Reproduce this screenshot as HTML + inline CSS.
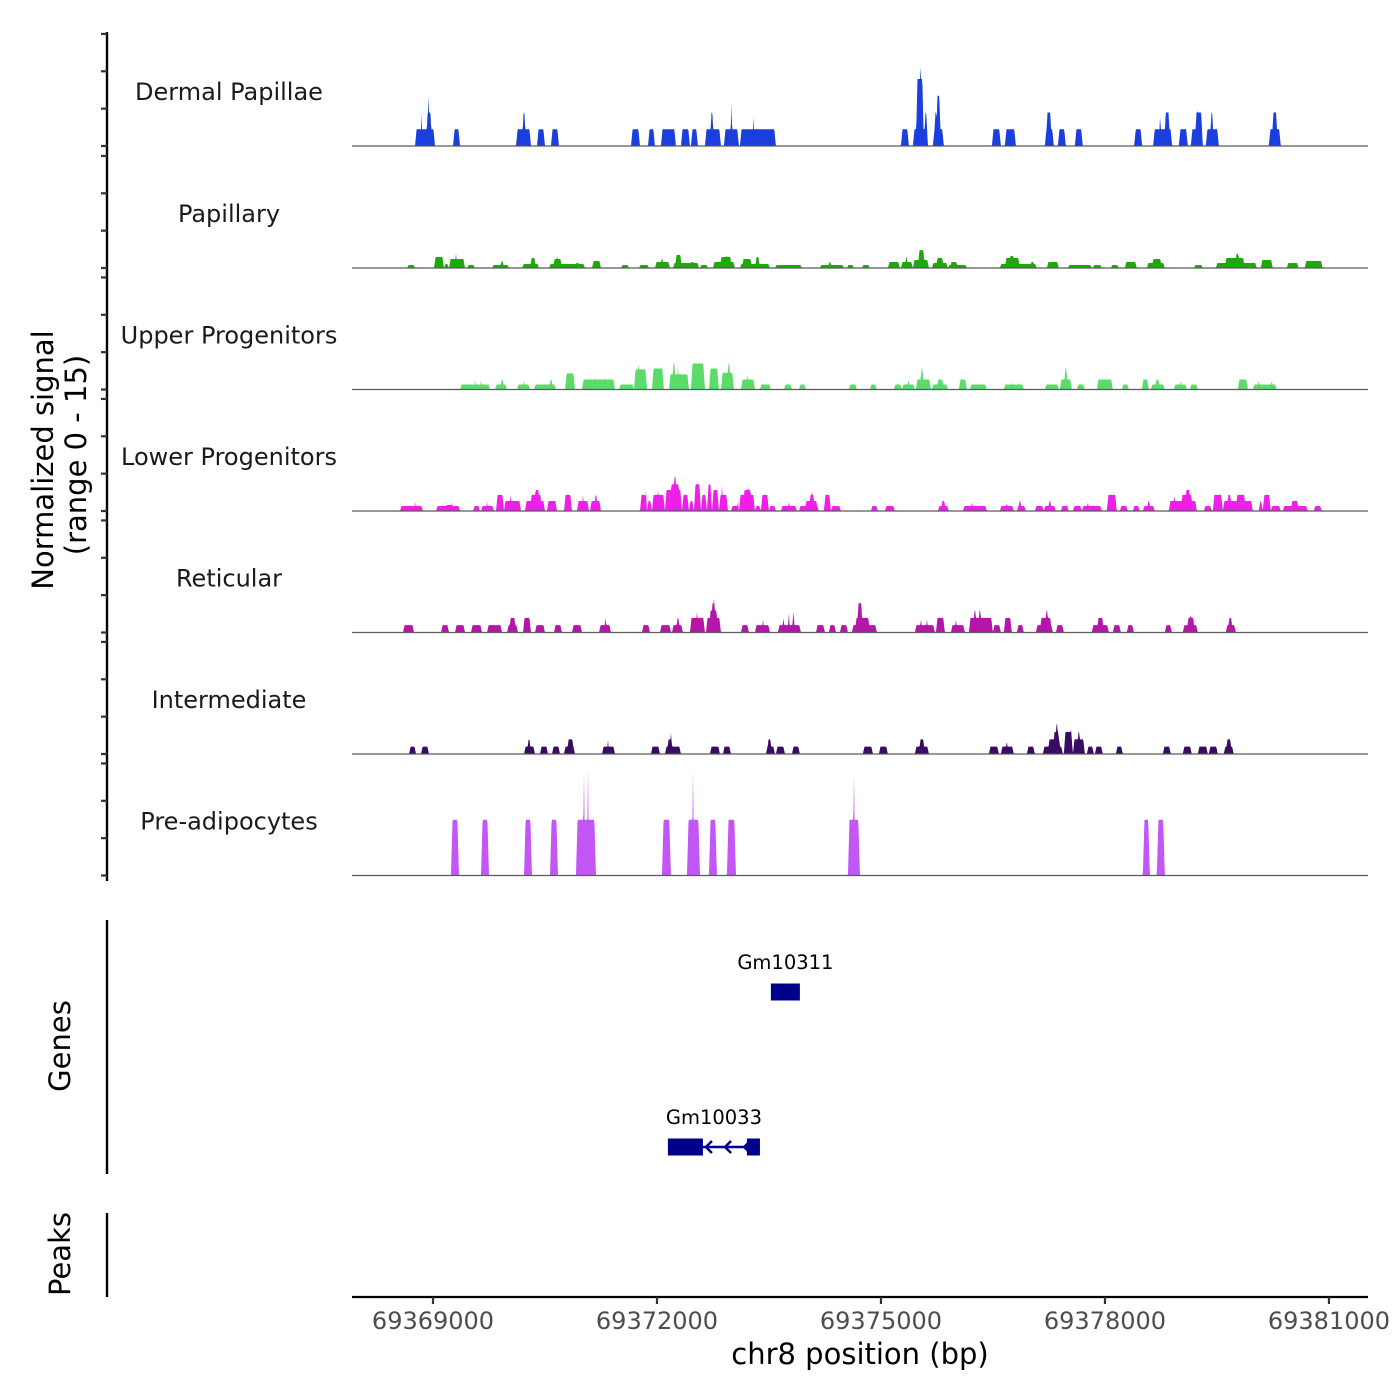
<!DOCTYPE html>
<html><head><meta charset="utf-8"><style>
body{margin:0;background:#fff}
svg{display:block;font-family:"DejaVu Sans","Liberation Sans",sans-serif}
</style></head><body>
<svg id="chart" width="1400" height="1400" viewBox="0 0 1400 1400" xmlns="http://www.w3.org/2000/svg">
<rect width="1400" height="1400" fill="#fff"/>
<g id="tracks"></g>
<g id="axes"></g>
<g id="genes"></g>
<text transform="translate(53,460) rotate(-90)" text-anchor="middle" font-size="29" fill="#000">Normalized signal</text>
<text transform="translate(86,455) rotate(-90)" text-anchor="middle" font-size="29" fill="#000">(range 0 - 15)</text>
<text transform="translate(70,1046) rotate(-90)" text-anchor="middle" font-size="29" fill="#000">Genes</text>
<text transform="translate(70,1254) rotate(-90)" text-anchor="middle" font-size="29" fill="#000">Peaks</text>
<text x="860" y="1364" text-anchor="middle" font-size="29" fill="#000">chr8 position (bp)</text>
</svg>
<script>
const BASE = 69300000;
const xDomain = [67915, 81523];
const trackNames = ["Dermal Papillae","Papillary","Upper Progenitors","Lower Progenitors","Reticular","Intermediate","Pre-adipocytes"];
const trackColors = ["#1a3fdc","#1ea80b","#5bdc6a","#ee1fe6","#b516aa","#3a0b62","#c257f6"];
const xTicks = [69369000, 69372000, 69375000, 69378000, 69381000];
const yTickValues = [0, 2.23, 4.46, 6.69];
const dermal = [[68579,68851,1],[68661,68674,2],[68729,68810,2],[68756,68769,3],[69096,69191,1],[69952,70156,1],[70033,70088,2],[70237,70346,1],[70427,70536,1],[71515,71637,1],[71746,71841,1],[71922,72126,1],[72194,72316,1],[72330,72425,1],[72520,72738,1],[72588,72643,2],[72778,72982,1],[72860,72901,2],[72874,72887,3],[72996,73485,1],[73173,73186,2],[75184,75293,1],[75347,75551,1],[75388,75497,4],[75429,75470,5],[75497,75551,2],[75619,75768,1],[75632,75687,2],[75660,75728,3],[76421,76543,1],[76597,76747,1],[77141,77263,1],[77155,77236,2],[77318,77426,1],[77549,77657,1],[78355,78464,1],[78613,78872,1],[78695,78722,2],[78763,78844,2],[78962,79084,1],[79125,79288,1],[79180,79288,2],[79207,79221,3],[79329,79506,1],[79384,79438,2],[80185,80348,1],[80226,80307,2]];
const papillary = [[68471,68580,0.18],[68837,68973,0.66],[68973,69041,0.24],[69041,69259,0.54],[69123,69150,0.9],[69286,69395,0.18],[69626,69857,0.18],[69735,69789,0.42],[70034,70265,0.24],[70142,70224,0.6],[70401,70890,0.24],[70455,70577,0.54],[70496,70523,0.72],[70754,70822,0.3],[70985,71107,0.42],[71379,71488,0.18],[71624,71760,0.18],[71841,72045,0.36],[71909,71963,0.54],[72086,72440,0.3],[72113,72208,0.78],[72316,72384,0.36],[72453,72561,0.18],[72629,72928,0.36],[72724,72887,0.66],[72792,72833,0.78],[72996,73404,0.24],[73023,73159,0.54],[73200,73268,0.66],[73472,73839,0.18],[74083,74409,0.18],[74192,74246,0.36],[74450,74545,0.18],[74654,74763,0.18],[75007,75170,0.36],[75184,75347,0.36],[75238,75279,0.78],[75347,75565,0.48],[75415,75510,1.07],[75456,75483,1.13],[75605,75823,0.3],[75660,75768,0.6],[75823,76081,0.18],[75850,75959,0.36],[76529,77032,0.24],[76597,76801,0.6],[76651,76733,0.72],[76937,77005,0.36],[77168,77331,0.36],[77454,77779,0.18],[77793,77915,0.18],[78038,78147,0.18],[78228,78391,0.36],[78527,78772,0.3],[78595,78731,0.54],[79166,79288,0.18],[79465,80022,0.3],[79587,79859,0.6],[79723,79791,0.84],[80076,80239,0.48],[80429,80592,0.3],[80674,80918,0.42]];
const upper = [[69192,69600,0.3],[69382,69409,0.6],[69463,69490,0.6],[69667,69830,0.3],[69735,69789,0.6],[69966,70142,0.3],[70048,70075,0.6],[70197,70496,0.3],[70401,70455,0.6],[70618,70754,0.96],[70849,71298,0.6],[71012,71039,0.72],[71148,71175,0.72],[71352,71556,0.3],[71556,71733,1.2],[71597,71637,1.5],[71800,71963,1.25],[72031,72303,0.9],[72072,72126,1.6],[72140,72167,1.5],[72330,72520,1.55],[72575,72710,1.25],[72738,72914,1.0],[72819,72874,1.55],[73010,73200,0.6],[73078,73118,0.9],[73268,73417,0.3],[73594,73703,0.3],[73798,73893,0.3],[74477,74586,0.3],[74763,74858,0.3],[75089,75198,0.3],[75198,75374,0.3],[75265,75306,0.6],[75388,75592,0.6],[75442,75497,1.25],[75605,75823,0.3],[75673,75768,0.6],[75972,76081,0.6],[76122,76353,0.3],[76583,76855,0.3],[76692,76706,0.6],[76774,76787,0.6],[77141,77331,0.3],[77345,77508,0.6],[77399,77454,1.25],[77576,77685,0.3],[77848,78065,0.6],[78187,78283,0.3],[78459,78554,0.6],[78581,78772,0.3],[78636,78704,0.6],[78894,79071,0.3],[78976,79002,0.6],[79111,79220,0.3],[79764,79900,0.6],[79968,80294,0.3],[80035,80063,0.6],[80212,80239,0.6]];
const lower = [[68375,68688,0.3],[68566,68593,0.6],[68865,69191,0.3],[68987,69096,0.36],[69068,69096,0.54],[69367,69463,0.3],[69476,69653,0.3],[69544,69571,0.6],[69680,69789,0.96],[69789,70020,0.6],[69857,69898,0.96],[70074,70346,0.6],[70142,70305,0.96],[70197,70278,1.25],[70373,70509,0.6],[70604,70713,0.96],[70781,70944,0.6],[70849,70876,0.96],[70958,71107,0.6],[71012,71066,0.96],[71637,71732,0.96],[71705,71732,1.25],[71732,71800,0.6],[71800,71977,0.96],[71868,71895,1.25],[71977,72208,1.25],[72045,72181,1.6],[72086,72140,2.1],[72113,72126,2.2],[72208,72303,0.96],[72303,72371,0.6],[72371,72466,1.6],[72466,72548,0.96],[72548,72616,1.6],[72616,72711,1.25],[72711,72833,0.96],[72738,72765,1.6],[72874,72983,0.3],[72956,72983,0.6],[72983,73200,0.96],[73037,73159,1.25],[73091,73118,1.6],[73200,73281,0.3],[73281,73390,0.96],[73390,73485,0.3],[73553,73770,0.3],[73648,73675,0.6],[73798,74070,0.3],[73879,74056,0.6],[73934,74015,0.96],[73961,73988,1.25],[74137,74233,0.96],[74233,74369,0.3],[74776,74872,0.3],[74967,75103,0.3],[75687,75836,0.3],[75728,75795,0.6],[76027,76353,0.3],[76136,76163,0.6],[76529,76719,0.3],[76610,76637,0.54],[76760,76882,0.3],[76774,76828,0.6],[77005,77127,0.3],[77127,77290,0.3],[77182,77236,0.6],[77358,77467,0.3],[77522,77644,0.3],[77644,77915,0.3],[77712,77739,0.6],[77983,78119,0.96],[78160,78269,0.3],[78337,78432,0.3],[78473,78636,0.3],[78527,78581,0.6],[78826,79207,0.6],[78881,78922,0.96],[78989,79152,0.96],[79043,79125,1.25],[79071,79098,1.6],[79302,79410,0.3],[79424,79560,0.96],[79560,79968,0.6],[79614,79682,0.96],[79736,79872,0.96],[80049,80103,0.6],[80103,80212,0.96],[80212,80348,0.3],[80375,80715,0.3],[80484,80592,0.6],[80796,80905,0.3]];
const reticular = [[68416,68566,0.44],[68933,69041,0.44],[69123,69259,0.44],[69340,69490,0.44],[69558,69762,0.44],[69830,69979,0.44],[69857,69952,0.87],[70047,70156,0.87],[70210,70346,0.44],[70468,70577,0.44],[70713,70849,0.44],[71080,71243,0.44],[71148,71189,0.87],[71664,71773,0.44],[71909,72058,0.44],[72072,72221,0.44],[72126,72181,0.87],[72316,72520,0.87],[72398,72425,1.31],[72534,72738,0.87],[72575,72697,1.31],[72602,72670,1.75],[72629,72656,2.18],[73010,73118,0.44],[73200,73404,0.44],[73295,73322,0.87],[73512,73825,0.44],[73567,73608,0.87],[73648,73675,1.31],[73703,73743,1.31],[74029,74151,0.44],[74205,74301,0.44],[74355,74464,0.44],[74518,74858,0.44],[74559,74763,0.87],[74586,74667,1.75],[74613,74640,1.9],[75374,75646,0.44],[75442,75469,0.87],[75524,75551,0.87],[75660,75782,0.87],[75864,76054,0.44],[75918,75945,0.87],[76108,76434,0.87],[76163,76217,1.31],[76231,76285,1.31],[76434,76543,0.44],[76583,76692,0.87],[76760,76855,0.44],[77019,77250,0.44],[77073,77236,0.87],[77141,77195,1.31],[77291,77399,0.44],[77779,78011,0.44],[77848,77943,0.87],[77861,77875,1.31],[77915,77929,1.31],[78065,78174,0.44],[78255,78351,0.44],[78772,78867,0.44],[79016,79220,0.44],[79071,79180,0.87],[79111,79138,1.31],[79601,79737,0.44],[79628,79696,0.87]];
const intermediate = [[68498,68593,0.44],[68661,68769,0.44],[70061,70210,0.44],[70101,70156,0.87],[70278,70387,0.44],[70441,70550,0.44],[70604,70754,0.44],[70645,70740,0.87],[71121,71298,0.44],[71189,71216,0.87],[71786,71909,0.44],[71977,72194,0.44],[72004,72086,0.87],[72045,72072,1.31],[72588,72724,0.44],[72765,72874,0.44],[73349,73472,0.44],[73363,73431,0.87],[73485,73608,0.44],[73703,73811,0.44],[74667,74804,0.44],[74885,75007,0.44],[75374,75565,0.44],[75429,75510,0.87],[76380,76516,0.44],[76543,76719,0.44],[76610,76637,0.87],[76896,77005,0.44],[77114,77386,0.44],[77182,77358,0.87],[77250,77345,1.31],[77277,77331,1.75],[77290,77318,2.13],[77399,77522,1.31],[77481,77508,1.75],[77522,77685,0.87],[77576,77630,1.31],[77712,77807,0.44],[77821,77929,0.44],[78106,78201,0.44],[78745,78853,0.44],[79016,79138,0.44],[79220,79356,0.44],[79369,79492,0.44],[79573,79709,0.44],[79601,79682,0.87]];
const preadipocytes = [[69068,69177,3.33],[69476,69585,3.33],[70061,70169,3.33],[70414,70523,3.33],[70767,71039,3.33],[70862,70889,6.57],[70917,70944,6.57],[71936,72058,3.33],[72276,72453,3.33],[72344,72371,6.57],[72575,72683,3.33],[72819,72942,3.33],[74464,74627,3.33],[74532,74559,6.57],[78473,78568,3.33],[78663,78772,3.33]];
const geneNames = ["Gm10311","Gm10033"];
const geneStarts = [73417, 72017];
const geneEnds = [73811, 73268];
const geneExons = [[[73417,73811]], [[72017,72493],[73091,73268]]];
const geneStrand = ["+","-"];

/* positions above were read against a provisional ruler; calibrate to the axis ticks */
const CAL_SLOPE = 0.98528, CAL_OFFSET = 1189.3;
function cal(b){ return CAL_SLOPE * b + CAL_OFFSET; }
const trackData = [dermal, papillary, upper, lower, reticular, intermediate, preadipocytes];

const NS = "http://www.w3.org/2000/svg";
const X0 = 352, X1 = 1368;
function x(bp){ return X0 + (bp - xDomain[0]) / (xDomain[1] - xDomain[0]) * (X1 - X0); }
function xd(b){ return x(cal(b)); }
function xg(bpFull){ return x(bpFull - BASE); }
const baselines = [146, 268, 389.5, 511, 632.5, 754, 875.5];
const PX_PER_UNIT = 16.75;
function y(v, t){ return baselines[t] - v * PX_PER_UNIT; }
function mk(tag, attrs, parent){ const e = document.createElementNS(NS, tag); for (const k in attrs) e.setAttribute(k, attrs[k]); parent.appendChild(e); return e; }

const tracksG = document.getElementById('tracks');
const RAMP_PX = 1.6;
trackData.forEach((blocks, t) => {
  const g = mk('g', {}, tracksG);
  
  
  const lab = mk('text', {x: 229, y: baselines[t] - 46, 'text-anchor': 'middle', 'font-size': 24, fill: '#1a1a1a'}, g);
  lab.textContent = trackNames[t];
  
  
  const pb = blocks.map(b => [xd(b[0]), xd(b[1]), b[2]]);
  let d = 'M' + X0 + ',' + baselines[t];
  for (let px = X0; px <= X1; px += 0.5) {
    let h = 0;
    for (const b of pb) {
      if (px > b[0] && px < b[1]) {
        const r = Math.min(RAMP_PX, (b[1]-b[0])/2);
        const f = Math.min(1, (px - b[0]) / r, (b[1] - px) / r);
        h = Math.max(h, b[2] * f);
      }
    }
    d += 'L' + px.toFixed(1) + ',' + y(h, t).toFixed(2);
  }
  d += 'L' + X1 + ',' + baselines[t] + 'Z';
  const p = mk('path', {d: d, fill: trackColors[t], stroke: 'none'}, g);
  
  
  const bl = mk('line', {x1: X0, x2: X1, y1: baselines[t], y2: baselines[t], stroke: '#5a5a5a', 'stroke-width': 1.2}, g);
  
  
});

const axes = document.getElementById('axes');
const ya = mk('line', {x1: 107, x2: 107, y1: 32, y2: 881, stroke: '#000', 'stroke-width': 2.4}, axes);


baselines.forEach((b, t) => {
  yTickValues.forEach(v => {
    const tk = mk('line', {x1: 101, x2: 107, y1: y(v, t), y2: y(v, t), stroke: '#333', 'stroke-width': 2.2}, axes);
    
    
  });
});
const ga = mk('line', {x1: 107, x2: 107, y1: 920, y2: 1174, stroke: '#000', 'stroke-width': 2.4}, axes);


const pa = mk('line', {x1: 107, x2: 107, y1: 1213, y2: 1297, stroke: '#000', 'stroke-width': 2.4}, axes);


const xa = mk('line', {x1: X0, x2: X1, y1: 1297, y2: 1297, stroke: '#000', 'stroke-width': 2.2}, axes);


xTicks.forEach(v => {
  const tk = mk('line', {x1: xg(v), x2: xg(v), y1: 1297, y2: 1304, stroke: '#333', 'stroke-width': 2.2}, axes);
  
  
  const tl = mk('text', {x: xg(v), y: 1329, 'text-anchor': 'middle', 'font-size': 24, fill: '#4d4d4d'}, axes);
  tl.textContent = String(v);
  
  
});

const genesG = document.getElementById('genes');
const geneRowY = [992, 1147];
geneNames.forEach((name, i) => {
  const g = mk('g', {}, genesG);
  
  
  const cy = geneRowY[i];
  const x0 = xd(geneStarts[i]), x1 = xd(geneEnds[i]);
  const ln = mk('line', {x1: x0, x2: x1, y1: cy, y2: cy, stroke: '#00008b', 'stroke-width': 2.5}, g);
  
  
  geneExons[i].forEach(ex => {
    const r = mk('rect', {x: xd(ex[0]), y: cy - 8.5, width: xd(ex[1]) - xd(ex[0]), height: 17, fill: '#00008b'}, g);
    
    
  });
  if (geneStrand[i] === '-' && geneExons[i].length > 1) {
    const a0 = xd(geneExons[i][0][1]), a1 = xd(geneExons[i][1][0]);
    for (let k = 0; k < 3; k++) {
      const ax = a0 + 3 + k * (a1 - a0) / 2.3;
      const ar = mk('path', {d: 'M' + (ax + 6) + ',' + (cy - 6) + 'L' + ax + ',' + cy + 'L' + (ax + 6) + ',' + (cy + 6), fill: 'none', stroke: '#00008b', 'stroke-width': 2.5}, g);
      
      
    }
  }
  const lbl = mk('text', {x: (x0 + x1) / 2, y: cy - 23, 'text-anchor': 'middle', 'font-size': 19.5, fill: '#000'}, g);
  lbl.textContent = name;
  
  
});
</script>
</body></html>
